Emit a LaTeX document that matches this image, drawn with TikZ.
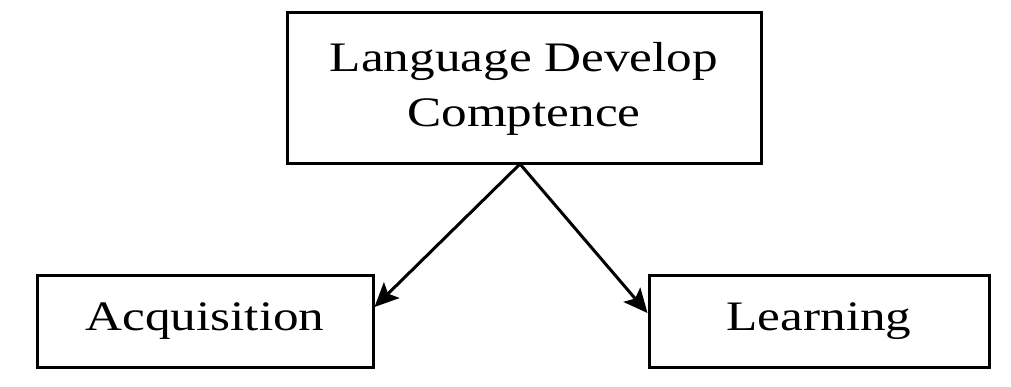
\documentclass[tikz,border=0pt]{standalone}
\usepackage{fontspec}
\setmainfont{Liberation Serif}
\newfontfamily\widefont[FakeStretch=1.22]{Liberation Serif}
\usetikzlibrary{arrows.meta}
\begin{document}
\begin{tikzpicture}[x=1pt,y=-1pt,
  boxnode/.style={draw=black,line width=3pt,inner sep=0pt,align=center,font=\widefont\fontsize{42}{55}\selectfont},
  conn/.style={line width=3pt,-{Stealth[length=24pt,width=22pt,inset=5pt]}}]
\useasboundingbox (0,0) rectangle (1011,387);
\node[boxnode,minimum width=474pt,minimum height=151pt] (top) at (524,88.5) {Language Develop\\Comptence};
\node[boxnode,minimum width=336pt,minimum height=92pt] (acq) at (205,321) {Acquisition};
\node[boxnode,minimum width=340pt,minimum height=92pt] (learn) at (819,321) {Learning};
\coordinate (apex) at (520,164);
\draw[conn] (apex) -- ([yshift=14pt]acq.east);
\draw[conn] (apex) -- ([yshift=8pt]learn.west);
\end{tikzpicture}
\end{document}
